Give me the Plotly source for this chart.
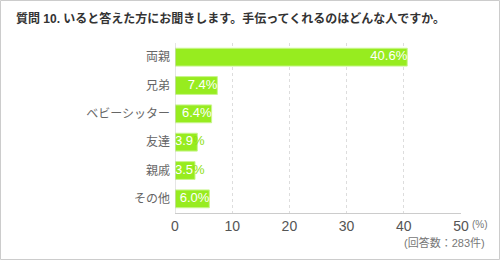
import plotly.graph_objects as go

categories = ["両親", "兄弟", "ベビーシッター", "友達", "親戚", "その他"]
values = [40.6, 7.4, 6.4, 3.9, 3.5, 6.0]
x_ticks = [0, 10, 20, 30, 40, 50]
title_text = "質問 10. いると答えた方にお聞きします。手伝ってくれるのはどんな人ですか。"
unit_text = "(%)"
note_text = "(回答数：283件)"

W, H = 500, 260
ML, MR, MT, MB = 175, 39, 43, 47
PW, PH = W - ML - MR, H - MT - MB
XMAX = 50

FONT = "Liberation Sans, Arial, Noto Sans CJK JP, sans-serif"
GREEN = "#97EC1F"
LABEL_SIZE = 13

# estimate whether the value label fits inside the bar
def text_width(s, size):
    w = 0
    for ch in s:
        w += 0.89 if ch == "%" else (0.28 if ch == "." else 0.556)
    return w * size

px_per_unit = PW / XMAX
label_x, label_pos, label_txt = [], [], []
for v in values:
    num = f"{v:.1f}"
    full = num + "%"
    if text_width(full, LABEL_SIZE) + 3 <= v * px_per_unit:
        label_x.append(v)
        label_pos.append("middle left")
        label_txt.append(full)
    else:
        label_x.append(0)
        label_pos.append("middle right")
        label_txt.append(num + f"<span style='color:#8ee010'>%</span>")

fig = go.Figure()
fig.add_trace(go.Bar(
    y=categories, x=values, orientation="h",
    marker=dict(color=GREEN, line=dict(color="#c9f58e", width=1)),
    hoverinfo="skip",
))
fig.add_trace(go.Scatter(
    y=categories, x=label_x, mode="text", text=label_txt,
    textposition=label_pos,
    textfont=dict(color="white", size=LABEL_SIZE, family=FONT),
    cliponaxis=False, hoverinfo="skip",
))

fig.update_layout(
    width=W, height=H,
    margin=dict(l=ML, r=MR, t=MT, b=MB),
    paper_bgcolor="white", plot_bgcolor="white",
    showlegend=False, bargap=0.37,
    font=dict(family=FONT),
    xaxis=dict(range=[0, XMAX], tickvals=x_ticks, ticktext=[str(t) for t in x_ticks],
               showgrid=True, gridcolor="#dddddd", griddash="dot", gridwidth=1,
               zeroline=False, showline=True, linecolor="#cccccc", linewidth=1,
               ticks="", tickfont=dict(size=14, color="#555555", family=FONT),
               fixedrange=True),
    yaxis=dict(autorange="reversed", showgrid=False, zeroline=False,
               ticks="", ticklabelstandoff=4,
               tickfont=dict(size=12, color="#666666", family=FONT),
               fixedrange=True),
    shapes=[
        dict(type="line", xref="x", yref="paper", x0=0, x1=0, y0=0, y1=1,
             line=dict(color="#cccccc", width=1)),
        dict(type="rect", xref="paper", yref="paper",
             x0=-(ML - 0.5) / PW, x1=1 + (MR - 0.5) / PW,
             y0=-(MB - 0.5) / PH, y1=1 + (MT - 0.5) / PH,
             line=dict(color="#cccccc", width=1)),
    ],
    annotations=[
        dict(text="<b>" + title_text + "</b>", xref="paper", yref="paper",
             x=-(ML - 14) / PW, y=1 + (MT - 18) / PH, xanchor="left", yanchor="middle",
             showarrow=False, font=dict(size=12, color="#333333", family=FONT)),
        dict(text=unit_text, xref="paper", yref="paper",
             x=1 + 9 / PW, y=-11 / PH,
             xanchor="left", yanchor="middle", showarrow=False,
             font=dict(size=10, color="#777777", family=FONT)),
        dict(text=note_text, xref="paper", yref="paper",
             x=1 + (487 - (ML + PW)) / PW, y=-29 / PH,
             xanchor="right", yanchor="middle", showarrow=False,
             font=dict(size=11, color="#777777", family=FONT)),
    ],
)

fig.write_html("out.html")
